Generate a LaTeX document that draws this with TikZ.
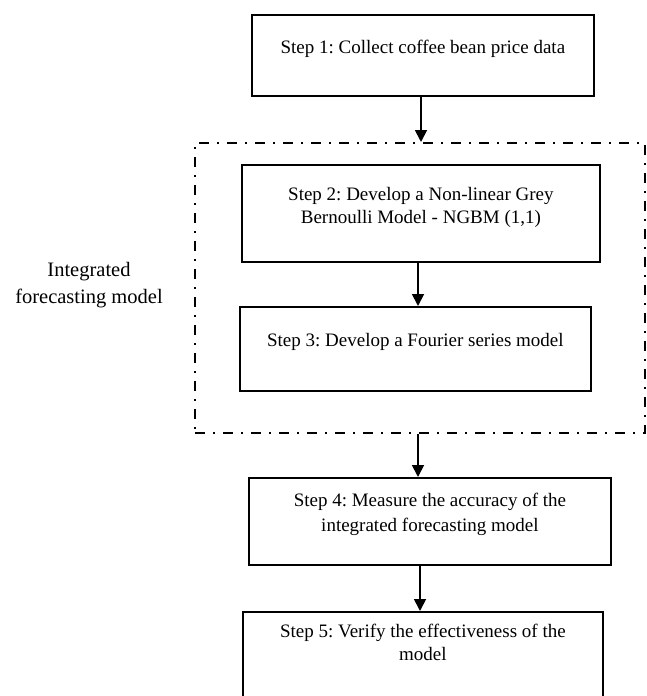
\documentclass[tikz,border=0pt]{standalone}
\usepackage{fontspec}
\setmainfont{Liberation Serif}
\usetikzlibrary{arrows.meta}
\frenchspacing
\begin{document}
\begin{tikzpicture}[x=1pt,y=-1pt,
  stepbox/.style={draw, line width=1.8pt, inner sep=0pt, anchor=north west},
  arr/.style={line width=1.8pt, -{Triangle[length=12pt,width=12pt]}},
  grpbox/.style={draw, line width=2pt, dash pattern=on 10pt off 8pt on 2pt off 8pt,
    inner sep=0pt, anchor=north west, minimum width=450pt, minimum height=290pt},
  boxfont/.style={font=\fontsize{19}{23}\selectfont},
  lblfont/.style={font=\fontsize{20.5}{27}\selectfont}]
\useasboundingbox (0,0) rectangle (646,696);
\clip (0,0) rectangle (646,696);

% group
\node[grpbox] (grp) at (194,142) {};

% steps
\node[stepbox, boxfont] (s1) at (251,14)
  {\parbox[t][81pt][t]{342pt}{\centering\rule{0pt}{39pt}Step 1: Collect coffee bean price data}};
\node[stepbox, boxfont] (s2) at (241,164)
  {\parbox[t][97pt][t]{358pt}{\centering\rule{0pt}{36pt}Step 2: Develop a Non-linear Grey\\Bernoulli Model - NGBM (1,1)}};
\node[stepbox, boxfont] (s3) at (239,306)
  {\parbox[t][84pt][t]{351pt}{\centering\rule{0pt}{40pt}Step 3: Develop a Fourier series model}};
\node[stepbox, boxfont] (s4) at (248,477)
  {\parbox[t][87pt][t]{362pt}{\fontsize{19}{25}\selectfont\centering\rule{0pt}{29pt}Step 4: Measure the accuracy of the\\integrated forecasting model}};
\node[stepbox, boxfont] (s5) at (242,611)
  {\parbox[t][92pt][t]{360pt}{\centering\rule{0pt}{26pt}Step 5: Verify the effectiveness of the\\model}};

% label
\node[lblfont, align=center] (lbl) at (89,285) {Integrated\\forecasting model};

% arrow x positions
\coordinate (a1) at (421,0);
\coordinate (a2) at (418,0);
\coordinate (a3) at (418,0);
\coordinate (a4) at (420,0);

\draw[arr] (s1.south -| a1) -- (grp.north -| a1);
\draw[arr] (s2.south -| a2) -- (s3.north -| a2);
\draw[arr] (grp.south -| a3) -- (s4.north -| a3);
\draw[arr] (s4.south -| a4) -- (s5.north -| a4);
\end{tikzpicture}
\end{document}
